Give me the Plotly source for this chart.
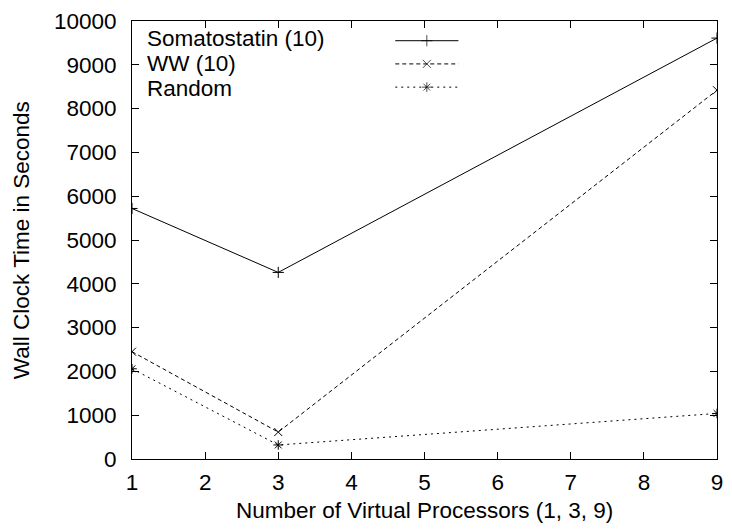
import plotly.graph_objects as go

x_vals = [1, 3, 9]
somatostatin = [5720, 4260, 9610]
ww = [2450, 615, 8420]
random_vals = [2060, 320, 1040]

series_names = ["Somatostatin (10)", "WW (10)", "Random"]
dashes = ["solid", "4px,3px", "2px,4px"]
symbols = ["cross-thin", "x-thin", "asterisk"]
series_data = [somatostatin, ww, random_vals]

x_ticks = list(range(1, 10))
y_ticks = list(range(0, 10001, 1000))

FONT = "Liberation Sans, Arial, sans-serif"
FS = 22.5
MS = 8

fig = go.Figure()

for name, ys, dash, sym in zip(series_names, series_data, dashes, symbols):
    fig.add_trace(go.Scatter(
        x=x_vals, y=ys, name=name, mode="lines+markers",
        line=dict(color="black", width=1, dash=dash),
        marker=dict(symbol=sym, size=MS, color="black",
                    line=dict(color="black", width=1)),
        showlegend=False,
    ))

# legend drawn in gnuplot style on an overlay axis (0..1 range)
leg_line_y = [0.955, 0.902, 0.849]
leg_text_y = [0.9592, 0.9025, 0.8458]
for name, dash, sym, ly, ty in zip(series_names, dashes, symbols, leg_line_y, leg_text_y):
    fig.add_trace(go.Scatter(
        x=[0.450, 0.504, 0.558], y=[ly, ly, ly], mode="lines+markers",
        xaxis="x2", yaxis="y2",
        line=dict(color="black", width=1, dash=dash),
        marker=dict(symbol=sym, size=[0, MS, 0], color="black",
                    line=dict(color="black", width=1)),
        showlegend=False, hoverinfo="skip",
    ))
    fig.add_annotation(
        x=0.022, y=ty, xref="paper", yref="paper", text=name,
        showarrow=False, xanchor="left", yanchor="middle",
        font=dict(family=FONT, size=FS, color="black"),
    )

fig.add_annotation(
    x=-0.1895, y=0.5, xref="paper", yref="paper",
    text="Wall Clock Time in Seconds", textangle=-90,
    showarrow=False, xanchor="center", yanchor="middle",
    font=dict(family=FONT, size=FS, color="black"),
)
fig.add_annotation(
    x=0.5, y=-0.118, xref="paper", yref="paper",
    text="Number of Virtual Processors (1, 3, 9)",
    showarrow=False, xanchor="center", yanchor="middle",
    font=dict(family=FONT, size=FS, color="black"),
)

axis_common = dict(
    showline=True, linecolor="black", linewidth=1, mirror="allticks",
    ticks="inside", ticklen=7, tickwidth=1, tickcolor="black",
    showgrid=False, zeroline=False,
    tickfont=dict(family=FONT, size=FS, color="black"),
)

fig.update_layout(
    width=732, height=529,
    margin=dict(l=132, r=9, t=18, b=70),
    plot_bgcolor="white", paper_bgcolor="white",
    xaxis=dict(range=[1, 9], tickvals=x_ticks, ticktext=[str(v) for v in x_ticks],
               ticklabelstandoff=3, **axis_common),
    yaxis=dict(range=[0, 10000], tickvals=y_ticks, ticktext=[str(v) for v in y_ticks],
               ticklabelstandoff=10, **axis_common),
    xaxis2=dict(range=[0, 1], overlaying="x", visible=False, fixedrange=True),
    yaxis2=dict(range=[0, 1], overlaying="y", visible=False, fixedrange=True),
)

fig.write_html("out.html")
